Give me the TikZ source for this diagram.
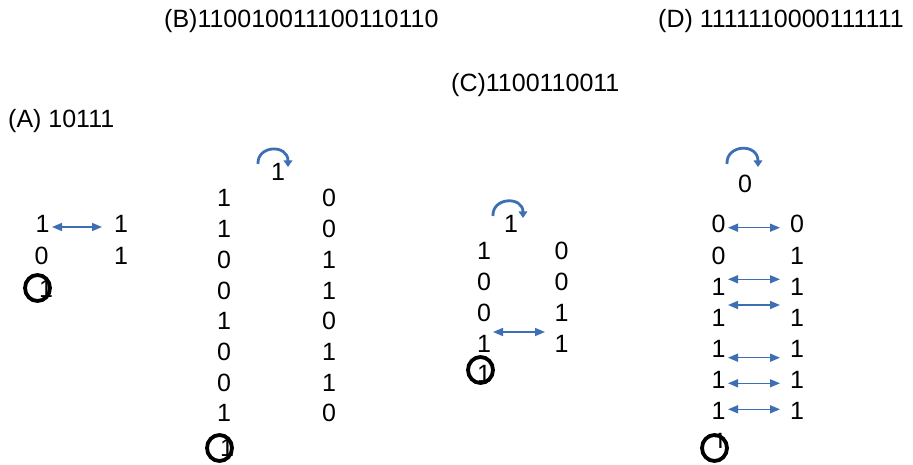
\documentclass[tikz,border=0pt]{standalone}
\usepackage{fontspec}
\setmainfont{Liberation Sans}
\usetikzlibrary{arrows.meta,shapes.geometric}
\definecolor{arrblue}{RGB}{62,110,180}
\tikzset{
  digit/.style={inner sep=0pt, anchor=base, font=\fontsize{25}{30}\selectfont},
  title/.style={inner sep=0pt, anchor=base west, font=\fontsize{25}{30}\selectfont},
  swap/.style={arrblue, line width=1.5pt, {Triangle[length=10pt,width=8pt]}-{Triangle[length=10pt,width=8pt]}},
  turn/.style={arrblue, line width=2.8pt, -{Triangle[length=6.5pt,width=8.5pt]}},
  ring/.style={draw, line width=3.8pt, ellipse, minimum width=25pt, minimum height=26pt, inner sep=0pt},
}
\begin{document}
\begin{tikzpicture}[x=1pt,y=-1pt]
\useasboundingbox (0,0) rectangle (913,465);
% titles
\node[title] (tA) at (8,128) {(A) 10111};
\node[title] (tB) at (164,28) {(B)110010011100110110};
\node[title] (tC) at (451,92) {(C)1100110011};
\node[title] (tD) at (658,28) {(D) 1111110000111111};

% ---------- Panel A
\node[digit] (A1l) at (42.5,233) {1};
\node[digit] (A1r) at (121,233) {1};
\node[digit] (A2l) at (41.5,265) {0};
\node[digit] (A2r) at (121,265) {1};
\node[digit] (A3l) at (46,297) {1};
\node[ring] (Ac) at (37.5,288) {};
\coordinate (Aa1) at (52,227); \coordinate (Aa2) at (102,227);
\draw[swap] (Aa1) -- (Aa2);

% ---------- Panel B
\node[digit] (Btop) at (278,181) {1};
\coordinate (Bt1) at (258,164); \coordinate (Bt2) at (288,167);
\draw[turn] (Bt1) .. controls (257,145) and (288,144) .. (Bt2);
\foreach \l/\r [count=\i] in {1/0,1/0,0/1,0/1,1/0,0/1,0/1,1/0}{
  \node[digit] (Bl\i) at (224,{207+30.7*(\i-1)}) {\l};
  \node[digit] (Br\i) at (329,{207+30.7*(\i-1)}) {\r};
}
\node[digit] (Bin) at (227,456) {1};
\node[ring] (Bc) at (219.5,448) {};

% ---------- Panel C
\node[digit] (Ctop) at (511,233) {1};
\coordinate (Ct1) at (493,216); \coordinate (Ct2) at (523,218);
\draw[turn] (Ct1) .. controls (492,197) and (523,196) .. (Ct2);
\foreach \l/\r [count=\i] in {1/0,0/0,0/1,1/1}{
  \node[digit] (Cl\i) at (484,{259+31*(\i-1)}) {\l};
  \node[digit] (Cr\i) at (561.5,{259+31*(\i-1)}) {\r};
}
\node[digit] (Cin) at (484,382) {1};
\node[ring] (Cc) at (480.5,370) {};
\coordinate (Ca1) at (493,332); \coordinate (Ca2) at (545,332);
\draw[swap] (Ca1) -- (Ca2);

% ---------- Panel D
\node[digit] (Dtop) at (745,193) {0};
\coordinate (Dt1) at (727,164); \coordinate (Dt2) at (758,167);
\draw[turn] (Dt1) .. controls (726,144) and (758,143) .. (Dt2);
\foreach \l/\r [count=\i] in {0/0,0/1,1/1,1/1,1/1,1/1,1/1}{
  \node[digit] (Dl\i) at (718.5,{233+31.1*(\i-1)}) {\l};
  \node[digit] (Dr\i) at (797,{233+31.1*(\i-1)}) {\r};
}
\begin{scope}
  \clip (715,430) rectangle (725,447);
  \node[digit] (Din) at (720,450) {1};
\end{scope}
\node[ring] (Dc) at (714.5,448) {};
\foreach \y [count=\i] in {227.7,279.3,305,357.7,383.3,409.3}{
  \coordinate (Da\i) at (728,\y); \coordinate (Db\i) at (780,\y);
  \draw[swap] (Da\i) -- (Db\i);
}
\end{tikzpicture}
\end{document}
